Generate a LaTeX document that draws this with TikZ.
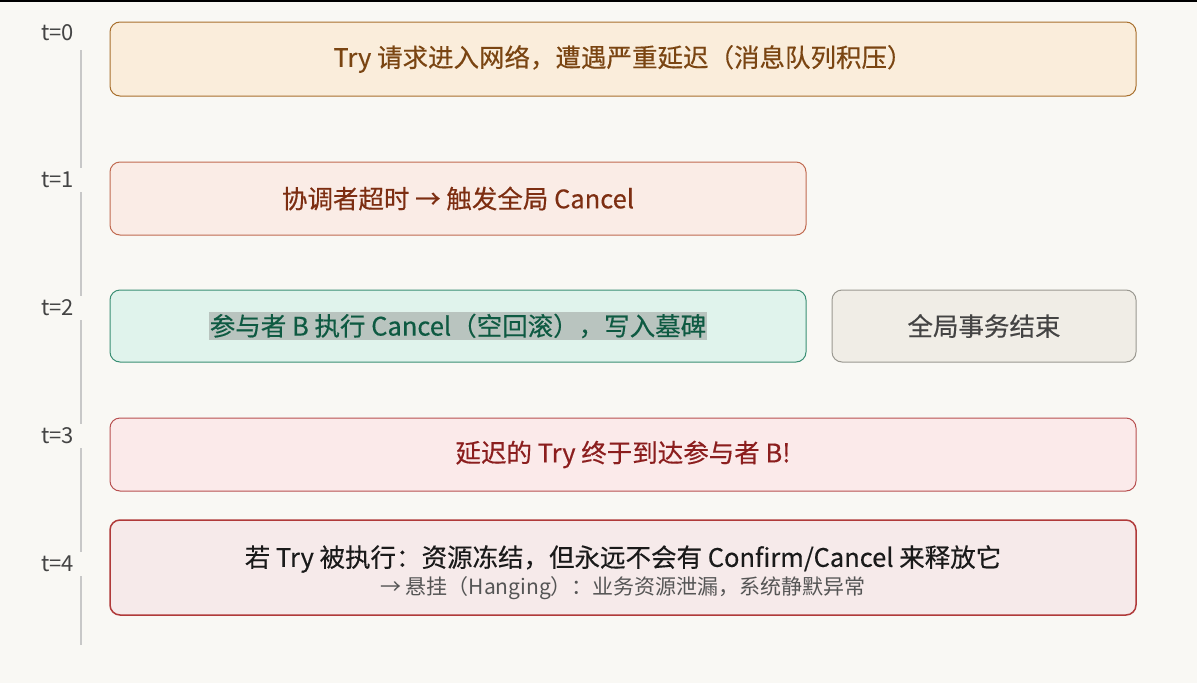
\documentclass[tikz,border=0pt]{standalone}
\usepackage{fontspec}
\setmainfont{Noto Sans CJK SC}[BoldFont={Noto Sans CJK SC}, BoldFeatures={FakeBold=0.35}]
\definecolor{bg}{HTML}{F9F8F4}
\definecolor{tlc}{HTML}{C8C8C8}
\definecolor{lbl}{HTML}{444444}
\definecolor{f0}{HTML}{FAEDDB}\definecolor{d0}{HTML}{A8702E}\definecolor{c0}{HTML}{7A4512}
\definecolor{f1}{HTML}{FAECE6}\definecolor{d1}{HTML}{C06A50}\definecolor{c1}{HTML}{7D2E12}
\definecolor{f2}{HTML}{E0F3EC}\definecolor{d2}{HTML}{3A8F74}\definecolor{c2}{HTML}{0E5A42}\definecolor{hl}{HTML}{B9C4BF}
\definecolor{f3}{HTML}{F0EDE6}\definecolor{d3}{HTML}{9A9890}\definecolor{c3}{HTML}{444444}
\definecolor{f4}{HTML}{FBEAEA}\definecolor{d4}{HTML}{B85050}\definecolor{c4}{HTML}{8B1E1E}
\definecolor{f5}{HTML}{F6EAEA}\definecolor{d5}{HTML}{B03A3A}\definecolor{c5}{HTML}{1A1A1A}\definecolor{s5}{HTML}{555555}
\tikzset{
  box/.style={draw, rounded corners=10pt, line width=1pt, inner sep=0pt, align=center},
  tlab/.style={fill=bg, text=lbl, font=\fontsize{22}{24}\selectfont, anchor=east, inner xsep=8pt, inner ysep=4pt},
  tline/.style={draw=tlc, line width=2pt},
  big/.style={font=\fontsize{25.5}{29}\selectfont\bfseries},
}
\begin{document}
\begin{tikzpicture}[x=1pt,y=-1pt]
\fill[bg] (0,0) rectangle (1197,683);
\useasboundingbox (0,0) rectangle (1197,683);
\fill[black] (0,0) rectangle (1197,1.5);
% timeline
\coordinate (ta) at (81,50);
\coordinate (tb) at (81,645);
\draw[tline] (ta) -- (tb);
\node[tlab] (t0) at (82,33) {t=0};
\node[tlab] (t1) at (82,180) {t=1};
\node[tlab] (t2) at (82,308) {t=2};
\node[tlab] (t3) at (82,436) {t=3};
\node[tlab] (t4) at (82,564) {t=4};
% boxes
\node[box, fill=f0, draw=d0, minimum width=1026pt, minimum height=74pt] (b0) at (623,59) {};
\node[big, text=c0] (b0t) at (b0.center) {Try 请求进入网络，遭遇严重延迟（消息队列积压）};
\node[box, fill=f1, draw=d1, minimum width=696pt, minimum height=73pt] (b1) at (458,198.5) {};
\node[big, text=c1] (b1t) at (b1.center) {协调者超时 → 触发全局 Cancel};
\node[box, fill=f2, draw=d2, minimum width=696pt, minimum height=72pt] (b2) at (458,326) {};
\node[big, text=c2, fill=hl, inner xsep=1pt, inner ysep=1.5pt] (b2t) at (b2.center) {参与者 B 执行 Cancel（空回滚），写入墓碑};
\node[box, fill=f3, draw=d3, minimum width=304pt, minimum height=72pt] (b3) at (984,326) {};
\node[big, text=c3] (b3t) at (b3.center) {全局事务结束};
\node[box, fill=f4, draw=d4, minimum width=1026pt, minimum height=73pt] (b4) at (623,454.5) {};
\node[big, text=c4] (b4t) at (b4.center) {延迟的 Try 终于到达参与者 B!};
\node[box, fill=f5, draw=d5, line width=1.5pt, minimum width=1026pt, minimum height=95pt] (b5) at (623,567.5) {};
\node[big, text=c5] (b5t) at (623,559) {若 Try 被执行：资源冻结，但永远不会有 Confirm/Cancel 来释放它};
\node[text=s5, font=\fontsize{21}{23}\selectfont] (b5s) at (623,588) {→ 悬挂（Hanging）：业务资源泄漏，系统静默异常};
\end{tikzpicture}
\end{document}
